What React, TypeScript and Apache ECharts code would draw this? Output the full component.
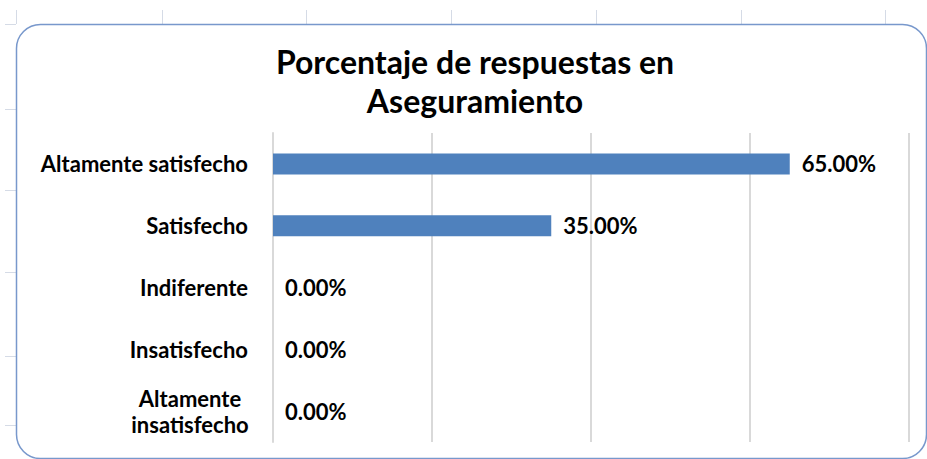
import React, { useEffect, useRef } from "react";
import * as echarts from "echarts";

const categories = [
  "Altamente satisfecho",
  "Satisfecho",
  "Indiferente",
  "Insatisfecho",
  "Altamente insatisfecho",
];
const values = [0.65, 0.35, 0, 0, 0];
const titleLines = ["Porcentaje de respuestas en", "Aseguramiento"];
const sheetColumnLines = [16, 162, 306, 451, 596, 741, 885];
const sheetRowLines = [24, 109, 190, 272, 356, 425];

const FONT = "Lato";

export default function App() {
  const ref = useRef<HTMLDivElement>(null);
  useEffect(() => {
    if (!ref.current) return;
    const chart = echarts.init(ref.current, null, { renderer: "svg" });
    const sheetGraphics: any[] = [];
    sheetColumnLines.forEach((x) =>
      sheetGraphics.push({
        type: "line",
        shape: { x1: x + 0.5, y1: 10, x2: x + 0.5, y2: 24 },
        style: { stroke: "#d5dbe6", lineWidth: 1 },
        z: 0,
      })
    );
    sheetRowLines.forEach((y) =>
      sheetGraphics.push({
        type: "line",
        shape: { x1: 5, y1: y + 0.5, x2: 16, y2: y + 0.5 },
        style: { stroke: "#d5dbe6", lineWidth: 1 },
        z: 0,
      })
    );
    chart.setOption({
      animation: false,
      backgroundColor: "#ffffff",
      title: {
        text: titleLines.join("\n"),
        left: 470,
        textAlign: "center",
        top: 37,
        textStyle: {
          fontFamily: FONT,
          fontWeight: "bold",
          fontSize: 32,
          lineHeight: 39,
          color: "#000000",
        },
      },
      graphic: [
        ...sheetGraphics,
        {
          type: "rect",
          shape: { x: 16.5, y: 24.5, width: 910, height: 434, r: 24 },
          style: { fill: "none", stroke: "#7898cc", lineWidth: 1.5 },
          z: 10,
        },
      ],
      grid: { left: 273, right: 18, top: 133, bottom: 17 },
      xAxis: {
        type: "value",
        min: 0,
        max: 0.8,
        interval: 0.2,
        axisLabel: { show: false },
        axisLine: { show: false },
        axisTick: { show: false },
        splitLine: { lineStyle: { color: "#d9d9d9", width: 2 } },
      },
      yAxis: {
        type: "category",
        data: categories,
        inverse: true,
        axisLine: { show: true, lineStyle: { color: "#d9d9d9", width: 2 } },
        axisTick: { show: false },
        axisLabel: {
          margin: 25,
          formatter: (v: string) =>
            v === "Altamente insatisfecho"
              ? "{c|Altamente}\n{c|insatisfecho}"
              : "{n|" + v + "}",
          rich: {
            n: {
              fontFamily: FONT,
              fontWeight: "bold",
              fontSize: 22,
              color: "#000000",
            },
            c: {
              fontFamily: FONT,
              fontWeight: "bold",
              fontSize: 22,
              color: "#000000",
              width: 116,
              align: "center",
              lineHeight: 26,
            },
          },
        },
      },
      series: [
        {
          type: "bar",
          data: values,
          barWidth: "34%",
          itemStyle: { color: "#4f81bd" },
          label: {
            show: true,
            position: "right",
            distance: 12,
            formatter: (p: any) => (p.value * 100).toFixed(2) + "%",
            fontFamily: FONT,
            fontWeight: "bold",
            fontSize: 22,
            color: "#000000",
          },
        },
      ],
    });
    return () => chart.dispose();
  }, []);
  return (
    <div
      ref={ref}
      style={{ position: "fixed", left: 0, top: 0, width: 927, height: 459 }}
    />
  );
}
